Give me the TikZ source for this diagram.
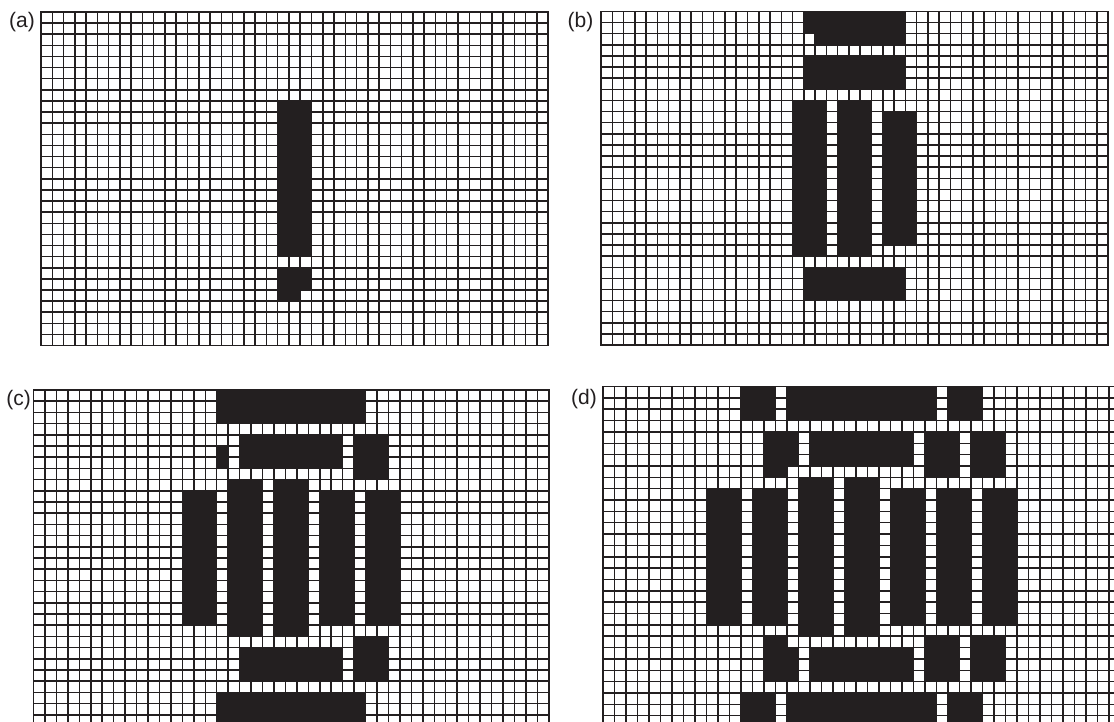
\documentclass[tikz,border=0pt]{standalone}
\usepackage{fontspec}
\setmainfont{Liberation Sans}
\definecolor{ink}{RGB}{35,31,32}
\newcommand\mygrid{%
  \foreach \i in {0,...,45} \draw[gridline] (\i,0) -- (\i,30);
  \foreach \j in {0,...,30} \draw[gridline] (0,\j) -- (45,\j);
}
\newcommand\mycells[4]{\fill[blk] (#1,#2) rectangle (#3+1,#4+1);}
\begin{document}
\begin{tikzpicture}[x=1pt,y=-1pt,
  gridline/.style={line width=1.5pt, draw=ink, line cap=rect},
  blk/.style={fill=ink},
  lbl/.style={font=\fontsize{21}{21}\selectfont, inner sep=0pt, text=ink}]
\useasboundingbox (0,0) rectangle (1114,722);
\clip (0,0) rectangle (1114,722);
\fill[white] (0,0) rectangle (1114,722);

% (a)
\node[lbl] (la) at (22,22.5) {(a)};
\begin{scope}[shift={(41,12)}, xscale=11.27, yscale=11.12]
  \mygrid
  \mycells{21}{8}{23}{21}
  \mycells{21}{23}{23}{24}
  \mycells{21}{25}{22}{25}
\end{scope}

% (b)
\node[lbl] (lb) at (580.5,22.5) {(b)};
\begin{scope}[shift={(601,11.5)}, xscale=11.27, yscale=11.12]
  \mygrid
  \mycells{18}{0}{26}{1}
  \mycells{19}{2}{26}{2}
  \mycells{18}{4}{26}{6}
  \mycells{17}{8}{19}{21}
  \mycells{21}{8}{23}{21}
  \mycells{25}{9}{27}{20}
  \mycells{18}{23}{26}{25}
\end{scope}

% (c)
\node[lbl] (lc) at (18.5,400) {(c)};
\begin{scope}[shift={(33.5,390)}, xscale=11.45, yscale=11.2]
  \mygrid
  \mycells{16}{0}{28}{2}
  \mycells{16}{5}{16}{6}
  \mycells{18}{4}{26}{6}
  \mycells{28}{4}{30}{7}
  \mycells{13}{9}{15}{20}
  \mycells{17}{8}{19}{21}
  \mycells{21}{8}{23}{21}
  \mycells{25}{9}{27}{20}
  \mycells{29}{9}{31}{20}
  \mycells{28}{22}{30}{25}
  \mycells{18}{23}{26}{25}
  \mycells{16}{27}{28}{29}
\end{scope}

% (d)
\node[lbl] (ld) at (584,399) {(d)};
\begin{scope}[shift={(603,386.5)}, xscale=11.5, yscale=11.35]
  \mygrid
  \mycells{12}{0}{14}{2}
  \mycells{16}{0}{28}{2}
  \mycells{30}{0}{32}{2}
  \mycells{14}{4}{16}{6}
  \mycells{14}{7}{15}{7}
  \mycells{18}{4}{26}{6}
  \mycells{28}{4}{30}{7}
  \mycells{32}{4}{34}{7}
  \mycells{9}{9}{11}{20}
  \mycells{13}{9}{15}{20}
  \mycells{17}{8}{19}{21}
  \mycells{21}{8}{23}{21}
  \mycells{25}{9}{27}{20}
  \mycells{29}{9}{31}{20}
  \mycells{33}{9}{35}{20}
  \mycells{14}{22}{15}{22}
  \mycells{14}{23}{16}{25}
  \mycells{18}{23}{26}{25}
  \mycells{28}{22}{30}{25}
  \mycells{32}{22}{34}{25}
  \mycells{12}{27}{14}{29}
  \mycells{16}{27}{28}{29}
  \mycells{30}{27}{32}{29}
\end{scope}
\end{tikzpicture}
\end{document}
